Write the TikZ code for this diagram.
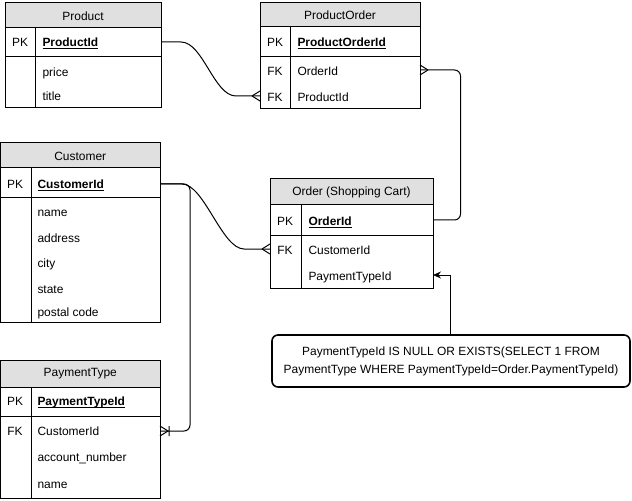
\documentclass[tikz,border=0pt]{standalone}
\usepackage{fontspec}
\setmainfont{Liberation Sans}
\newcommand{\ulkey}[1]{\setbox0\hbox{#1}\rlap{\copy0}\rule[-2.2pt]{\wd0}{1.1pt}}
\usetikzlibrary{arrows.meta}
\begin{document}
\begin{tikzpicture}[x=1bp,y=-1bp, line width=1bp,
  every node/.style={font=\fontsize{12}{14}\selectfont, inner sep=0},
  hdrfill/.style={fill=black!12, draw=black},
  fld/.style={anchor=base west},
  keyfld/.style={anchor=base west, font=\fontsize{12}{14}\selectfont\bfseries},
  kind/.style={anchor=base},
  checkbox/.style={draw, rounded corners=6bp, line width=1.6bp, minimum width=358bp, minimum height=52bp, align=center, font=\fontsize{12}{18}\selectfont},
  pics/manyleft/.style={code={\draw (-8,0) -- (0,-5) (-8,0) -- (0,5);}},
  pics/manyright/.style={code={\draw (8,0) -- (0,-5) (8,0) -- (0,5);}},
  pics/onemanyright/.style={code={\draw (8,0) -- (0,-5) (8,0) -- (0,5) (9,-5) -- (9,5);}}]
\useasboundingbox (0,0) rectangle (632,501);

% Product
\draw[hdrfill] (5,3) rectangle (161,28);
\node (product) at (83,16) {Product};
\draw (5,28) rectangle (161,108);
\draw (5,57) -- (161,57);
\draw (35,28) -- (35,108);
\node[kind] (productpkk) at (20,47) {PK};
\node[keyfld] (productpk) at (42,47) {\ulkey{ProductId}};
\node[fld] (productprice) at (42,76.5) {price};
\node[fld] (producttitle) at (42,100.5) {title};

% ProductOrder
\draw[hdrfill] (260,3) rectangle (420,27);
\node (productorder) at (340,15.5) {ProductOrder};
\draw (260,27) rectangle (420,109);
\draw (260,57) -- (420,57);
\draw (290,27) -- (290,108);
\node[kind] (popkk) at (275,47) {PK};
\node[keyfld] (popk) at (297,47) {\ulkey{ProductOrderId}};
\node[kind] (pofk1) at (275,75.5) {FK};
\node[fld] (poorder) at (297,75.5) {OrderId};
\node[kind] (pofk2) at (275,101.5) {FK};
\node[fld] (poprod) at (297,101.5) {ProductId};

% Customer
\draw[hdrfill] (0.5,143) rectangle (160,168);
\node (customer) at (80.25,156) {Customer};
\draw (0.5,168) rectangle (160,322);
\draw (0.5,198) -- (160,198);
\draw (31,168) -- (31,322);
\node[kind] (custpkk) at (15,188.5) {PK};
\node[keyfld] (custpk) at (37,188.5) {\ulkey{CustomerId}};
\node[fld] (custname) at (37,216.5) {name};
\node[fld] (custaddr) at (37,242.5) {address};
\node[fld] (custcity) at (37,267.5) {city};
\node[fld] (custstate) at (37,293.5) {state};
\node[fld] (custpostal) at (37,316.5) {postal code};

% Order
\draw[hdrfill] (270,179) rectangle (433,205);
\node (order) at (351.5,192.5) {Order (Shopping Cart)};
\draw (270,205) rectangle (433,288);
\draw (270,235) -- (433,235);
\draw (301,205) -- (301,288);
\node[kind] (ordpkk) at (285,225.5) {PK};
\node[keyfld] (ordpk) at (308,225.5) {\ulkey{OrderId}};
\node[kind] (ordfk) at (285,254.5) {FK};
\node[fld] (ordcust) at (308,254.5) {CustomerId};
\node[fld] (ordpay) at (308,280.5) {PaymentTypeId};

% PaymentType
\draw[hdrfill] (0.5,360) rectangle (160,387);
\node (paymenttype) at (80.25,374) {PaymentType};
\draw (0.5,387) rectangle (160,498);
\draw (0.5,416) -- (160,416);
\draw (31,387) -- (31,498);
\node[kind] (paypkk) at (15,405.5) {PK};
\node[keyfld] (paypk) at (37,405.5) {\ulkey{PaymentTypeId}};
\node[kind] (payfk) at (15,435.5) {FK};
\node[fld] (paycust) at (37,435.5) {CustomerId};
\node[fld] (payacct) at (37,461.5) {account\_number};
\node[fld] (payname) at (37,488.5) {name};

% Check constraint
\node[checkbox] (check) at (451,361) {PaymentTypeId IS NULL OR EXISTS(SELECT 1 FROM\\PaymentType WHERE PaymentTypeId=Order.PaymentTypeId)};

% connection points
\coordinate (c-prodpk) at (161,42);
\coordinate (c-poprod) at (260,96);
\coordinate (c-poord) at (420,70);
\coordinate (c-ordpk) at (433,220);
\coordinate (c-custpk) at (160,184);
\coordinate (c-ordcust) at (270,249);
\coordinate (c-paycust) at (160,431);
\coordinate (c-ordpay) at (433,275);
\coordinate (c-check) at (450,335);

% connectors
\draw (c-prodpk) -- (181,42) .. controls (203,42) and (214,96) .. (236,96) -- (c-poprod);
\path (c-poprod) pic {manyleft};

\draw[rounded corners=6bp] (c-poord) -- (460.5,70) -- (460.5,220) -- (c-ordpk);
\path (c-poord) pic {manyright};

\draw (c-custpk) -- (182,184) .. controls (204,184) and (222,249) .. (244,249) -- (c-ordcust);
\path (c-ordcust) pic {manyleft};

\draw[rounded corners=6bp] (c-custpk) -- (190,184) -- (190,431) -- (c-paycust);
\path (c-paycust) pic {onemanyright};

\draw[-{Stealth[length=8bp,width=7bp]}] (c-check) |- (c-ordpay);
\end{tikzpicture}
\end{document}
